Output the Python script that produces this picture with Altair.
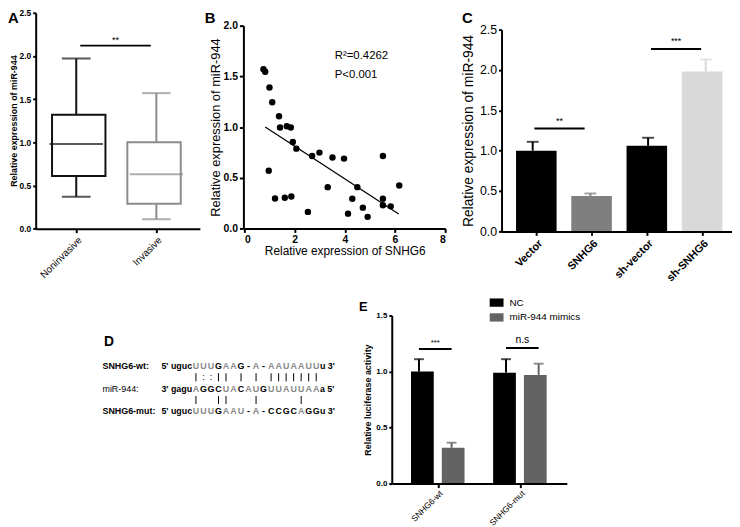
import altair as alt
import pandas as pd

FONT = "Liberation Sans"
W, H = 732, 519

# ---------------- Panel A : box plot ----------------
a_groups = ["Noninvasive", "Invasive"]
a_low = [0.37, 0.11]
a_q1 = [0.61, 0.29]
a_med = [0.98, 0.63]
a_q3 = [1.32, 1.00]
a_high = [1.97, 1.57]
a_colors = ["#111111", "#8c8c8c"]
a_sig_text = ["**"]
a_sig_x1 = [0.05]
a_sig_x2 = [0.93]
a_sig_y = [2.12]

# ---------------- Panel B : scatter ----------------
b_x = [0.76, 0.83, 1.00, 1.11, 1.38, 1.42, 1.69, 1.85, 1.93, 2.07,
       0.97, 1.22, 1.61, 1.87, 2.53, 2.70, 2.99, 3.32, 3.51, 3.97,
       4.13, 4.30, 4.50, 4.72, 4.91, 5.52, 5.52, 5.52, 5.83, 6.17]
b_y = [1.570, 1.545, 1.390, 1.245, 1.106, 0.995, 1.008, 0.995, 0.852, 0.787,
       0.569, 0.296, 0.302, 0.315, 0.163, 0.715, 0.748, 0.407, 0.699, 0.689,
       0.146, 0.293, 0.407, 0.205, 0.114, 0.715, 0.293, 0.228, 0.218, 0.423]
b_fit_x = [0.83, 6.15]
b_fit_y = [1.00, 0.143]
b_notes = ["R\u00b2=0.4262", "P<0.001"]
b_notes_x = [3.6, 3.6]
b_notes_y = [1.70, 1.51]

# ---------------- Panel C : bars ----------------
c_groups = ["Vector", "SNHG6", "sh-vector", "sh-SNHG6"]
c_mean = [1.00, 0.44, 1.06, 1.98]
c_top = [1.11, 0.47, 1.16, 2.13]
c_colors = ["#000000", "#7f7f7f", "#000000", "#d9d9d9"]
c_sig_text = ["**", "***"]
c_sig_x1 = [0.03, 2.05]
c_sig_x2 = [0.90, 2.92]
c_sig_y = [1.275, 2.26]

# ---------------- Panel D : sequences ----------------
d_labels = ["SNHG6-wt:", "miR-944:", "SNHG6-mut:"]
d_label_bold = [True, False, True]
d_prefix = ["5' uguc", "3' gagu", "5' uguc"]
d_core = ["UUUGAAG-A-AAUAAUU", "AGGCUACAUGUUAUUAA", "UUUGAAU-A-CCGCAGG"]
d_suffix = ["u 3'", "a 5'", "u 3'"]
d_pairs = ["|::|| | | |||||||", "|  ||   |     |  "]

# ---------------- Panel E : grouped bars ----------------
e_groups = ["SNHG6-wt", "SNHG6-mut"]
e_series = ["NC", "miR-944 mimics"]
e_colors = ["#000000", "#636363"]
e_nc = [1.00, 0.99]
e_nc_top = [1.11, 1.11]
e_mim = [0.32, 0.97]
e_mim_top = [0.365, 1.07]
e_sig_text = ["***", "n.s"]
e_sig_group = [0, 1]
e_sig_y = [1.20, 1.21]


def axis(**kw):
    base = dict(domainColor="black", domainWidth=2, tickColor="black", tickWidth=2,
                tickSize=4, labelColor="black", titleColor="black", labelFont=FONT,
                titleFont=FONT, grid=False, minExtent=0, zindex=1)
    base.update(kw)
    return alt.Axis(**base)


def label_expr(names):
    expr = "''"
    for i in reversed(range(len(names))):
        expr = f"datum.value == {i} ? '{names[i]}' : ({expr})"
    return expr


def sc(domain, rng, **kw):
    return alt.Scale(domain=domain, range=rng, nice=False, zero=False, **kw)


def letter(ch, x, y, size=15):
    return alt.Chart(pd.DataFrame({"t": [ch]})).mark_text(
        font=FONT, fontSize=size, fontWeight="bold", align="left", baseline="middle",
        color="black").encode(text="t:N", x=alt.value(x), y=alt.value(y))


layers = []

# ======== A ========
xA_s = sc([-0.506, 1.543], [28, 194])
yA_s = sc([0, 2.5], [220.3, 2])
xA_axis = axis(orient="bottom", offset=220.3 - H, values=[0, 1], labelExpr=label_expr(a_groups),
               labelAngle=-45, labelAlign="right", labelBaseline="top", labelFontSize=10,
               title=None, labelPadding=2)
yA_axis = axis(orient="left", offset=-28, values=[0, 0.5, 1, 1.5, 2, 2.5], format=".1f",
               labelFontSize=8.5, labelFontWeight="bold", title="Relative expression of miR-944",
               titleFontSize=9, titleFontWeight="bold", tickSize=3, labelPadding=2,
               titleX=-17.5, titleY=111)


def XA(f="pos", ax=None):
    return alt.X(f"{f}:Q", scale=xA_s, axis=ax)


def YA(f, ax=None):
    return alt.Y(f"{f}:Q", scale=yA_s, axis=ax)


dfA = pd.DataFrame({"grpA": a_groups, "pos": list(range(len(a_groups))), "low": a_low,
                    "q1": a_q1, "med": a_med, "q3": a_q3, "high": a_high})
colA = alt.Color("grpA:N", scale=alt.Scale(domain=a_groups, range=a_colors), legend=None)
strA = alt.Stroke("grpA:N", scale=alt.Scale(domain=a_groups, range=a_colors), legend=None)
baseA = alt.Chart(dfA)
layers += [
    baseA.mark_rule(strokeWidth=2).encode(x=XA("pos", xA_axis), y=YA("low", yA_axis), y2="high:Q", color=colA),
    baseA.mark_bar(size=54, fill="white", strokeWidth=2, orient="vertical").encode(
        x=XA(), y=YA("q1"), y2="q3:Q", stroke=strA),
    baseA.mark_tick(orient="horizontal", size=54, thickness=2).encode(x=XA(), y=YA("med"), color=colA),
    baseA.mark_tick(orient="horizontal", size=29, thickness=2).encode(x=XA(), y=YA("low"), color=colA),
    baseA.mark_tick(orient="horizontal", size=29, thickness=2).encode(x=XA(), y=YA("high"), color=colA),
]
sigA_df = pd.DataFrame({"t": a_sig_text, "x1": a_sig_x1, "x2": a_sig_x2, "y": a_sig_y})
sigA_df["xm"] = (sigA_df["x1"] + sigA_df["x2"]) / 2
layers += [
    alt.Chart(sigA_df).mark_rule(strokeWidth=2, color="black").encode(x=XA("x1"), x2="x2:Q", y=YA("y")),
    alt.Chart(sigA_df).mark_text(font=FONT, fontSize=9, baseline="bottom", dy=-1, color="black").encode(
        x=XA("xm"), y=YA("y"), text="t:N"),
    letter("A", 0, 7, 15),
]

# ======== B ========
xB_s = sc([0, 8], [239, 442])
yB_s = sc([0, 2], [220, 15])
xB_axis = axis(orient="bottom", offset=220 - H, values=[0, 2, 4, 6, 8], format="d", labelFontSize=10.5,
               labelFontWeight="bold", title="Relative expression of SNHG6", titleFontSize=12,
               titleFontWeight="normal", labelPadding=2, titlePadding=1)
yB_axis = axis(orient="left", offset=-238, values=[0, 0.5, 1, 1.5, 2], format=".1f", labelFontSize=10.5,
               labelFontWeight="bold", title="Relative expression of miR-944", titleFontSize=13,
               titleFontWeight="normal", labelPadding=2, titlePadding=1)
dfB = pd.DataFrame({"x": b_x, "y": b_y})
layers += [
    alt.Chart(dfB).mark_circle(size=42, color="black", opacity=1).encode(
        x=alt.X("x:Q", scale=xB_s, axis=xB_axis), y=alt.Y("y:Q", scale=yB_s, axis=yB_axis)),
    alt.Chart(pd.DataFrame({"x": b_fit_x, "y": b_fit_y})).mark_line(color="black", strokeWidth=1.3).encode(
        x=alt.X("x:Q", scale=xB_s, axis=None), y=alt.Y("y:Q", scale=yB_s, axis=None)),
    alt.Chart(pd.DataFrame({"t": b_notes, "x": b_notes_x, "y": b_notes_y})).mark_text(
        font=FONT, fontSize=11.5, align="left", baseline="middle", color="black").encode(
        x=alt.X("x:Q", scale=xB_s, axis=None), y=alt.Y("y:Q", scale=yB_s, axis=None), text="t:N"),
    letter("B", 199, 7, 15),
]

# ======== C ========
xC_s = sc([-0.54, 3.506], [499, 735])
yC_s = sc([0, 2.5], [223, 19])
xC_axis = axis(orient="bottom", offset=223 - H, values=[0, 1, 2, 3], labelExpr=label_expr(c_groups),
               labelAngle=-45, labelAlign="right", labelBaseline="top", labelFontSize=11,
               labelFontWeight="bold", title=None, labelPadding=2)
yC_axis = axis(orient="left", offset=-499, values=[0, 0.5, 1, 1.5, 2, 2.5], format=".1f",
               labelFontSize=12.5, title="Relative expression of miR-944", titleFontSize=14,
               titleFontWeight="normal", tickSize=3, labelPadding=2, titlePadding=4)


def XC(f="pos", ax=None):
    return alt.X(f"{f}:Q", scale=xC_s, axis=ax)


def YC(f, ax=None):
    return alt.Y(f"{f}:Q", scale=yC_s, axis=ax)


dfC = pd.DataFrame({"grpC": c_groups, "pos": list(range(len(c_groups))), "mean": c_mean, "top": c_top})
colC = alt.Color("grpC:N", scale=alt.Scale(domain=c_groups, range=c_colors), legend=None)
baseC = alt.Chart(dfC)
sigC_df = pd.DataFrame({"t": c_sig_text, "x1": c_sig_x1, "x2": c_sig_x2, "y": c_sig_y})
sigC_df["xm"] = (sigC_df["x1"] + sigC_df["x2"]) / 2
layers += [
    baseC.mark_bar(size=41).encode(x=XC("pos", xC_axis), y=YC("mean", yC_axis), color=colC),
    baseC.mark_rule(strokeWidth=2).encode(x=XC(), y=YC("mean"), y2="top:Q", color=colC),
    baseC.mark_tick(orient="horizontal", size=12, thickness=2).encode(x=XC(), y=YC("top"), color=colC),
    alt.Chart(sigC_df).mark_rule(strokeWidth=2, color="black").encode(x=XC("x1"), x2="x2:Q", y=YC("y")),
    alt.Chart(sigC_df).mark_text(font=FONT, fontSize=9, baseline="bottom", dy=-3, color="black").encode(
        x=XC("xm"), y=YC("y"), text="t:N"),
    letter("C", 459, 7, 15),
]

# ======== D ========
recs = []
for i, core in enumerate(d_core):
    for k, ch in enumerate(core):
        if ch != " ":
            recs.append({"col": k + 1, "line": 2 * i, "ch": ch, "tone": "hi" if ch in "AU" else "lo"})
dfcore = pd.DataFrame(recs)
prec = []
for j, pr in enumerate(d_pairs):
    for k, ch in enumerate(pr):
        if ch != " ":
            prec.append({"col": k + 1, "line": 2 * j + 1, "ch": ch})
dfpair = pd.DataFrame(prec)
dfside = pd.DataFrame({"line": [2 * i for i in range(len(d_labels))], "label": d_labels,
                       "bold": d_label_bold, "prefix": d_prefix, "suffix": d_suffix})
dfside["lcol"] = -11.43
dfside["pcol"] = 0.5
dfside["scol"] = len(d_core[0]) + 0.5

xD_s = sc([1, 17], [190, 311.6])
yD_s = sc([0, 4], [359, 405])


def XD(f):
    return alt.X(f"{f}:Q", scale=xD_s, axis=None)


def YD(f="line"):
    return alt.Y(f"{f}:Q", scale=yD_s, axis=None)


txt = dict(font=FONT, fontSize=9, baseline="middle")
layers += [
    alt.Chart(dfcore).mark_text(fontWeight="bold", align="center", **txt).encode(
        x=XD("col"), y=YD(), text="ch:N",
        color=alt.Color("tone:N", scale=alt.Scale(domain=["lo", "hi"], range=["#000000", "#8a8a8a"]),
                        legend=None)),
    alt.Chart(dfpair).transform_filter("datum.ch == '|'").mark_tick(
        orient="vertical", size=8, thickness=1, color="black", opacity=1).encode(
        x=XD("col"), y=YD()),
    alt.Chart(dfpair).transform_filter("datum.ch != '|'").mark_text(align="center", **txt).encode(
        x=XD("col"), y=YD(), text="ch:N", color=alt.value("black")),
    alt.Chart(dfside).mark_text(fontWeight="bold", align="right", color="black", **txt).encode(
        x=XD("pcol"), y=YD(), text="prefix:N"),
    alt.Chart(dfside).mark_text(fontWeight="bold", align="left", color="black", **txt).encode(
        x=XD("scol"), y=YD(), text="suffix:N"),
    alt.Chart(dfside).transform_filter("datum.bold").mark_text(
        fontWeight="bold", align="left", color="black", **txt).encode(x=XD("lcol"), y=YD(), text="label:N"),
    alt.Chart(dfside).transform_filter("!datum.bold").mark_text(
        fontWeight="normal", align="left", color="black", **txt).encode(x=XD("lcol"), y=YD(), text="label:N"),
    letter("D", 97, 335, 14),
]

# ======== E ========
xE_s = sc([-0.5, 1.511], [388, 565])
yE_s = sc([0, 1.5], [478, 308])
xE_axis = axis(orient="bottom", offset=478 - H, values=[0, 1], labelExpr=label_expr(e_groups),
               labelAngle=-45, labelAlign="right", labelBaseline="top", labelFontSize=8.5,
               title=None, labelPadding=1)
yE_axis = axis(orient="left", offset=-388, values=[0, 0.5, 1, 1.5], format=".1f", labelFontSize=8,
               labelFontWeight="bold", title="Relative luciferase activity", titleFontSize=9,
               titleFontWeight="bold", tickSize=3, labelPadding=2, titlePadding=3)


def XE(f="pos", ax=None):
    return alt.X(f"{f}:Q", scale=xE_s, axis=ax)


def YE(f, ax=None):
    return alt.Y(f"{f}:Q", scale=yE_s, axis=ax)


erec = []
for gi, g in enumerate(e_groups):
    erec.append({"grp": g, "series": e_series[0], "pos": gi - 0.1875, "val": e_nc[gi], "top": e_nc_top[gi]})
    erec.append({"grp": g, "series": e_series[1], "pos": gi + 0.1875, "val": e_mim[gi], "top": e_mim_top[gi]})
dfE = pd.DataFrame(erec)
baseE = alt.Chart(dfE)
errColE = alt.Color("series:N", scale=alt.Scale(domain=e_series, range=e_colors), legend=None)
sigE_df = pd.DataFrame({"t": e_sig_text, "g": e_sig_group, "y": e_sig_y})
sigE_df["x1"] = sigE_df["g"] - 0.1875
sigE_df["x2"] = sigE_df["g"] + 0.1875
layers += [
    baseE.mark_bar(size=23).encode(
        x=XE("pos", xE_axis), y=YE("val", yE_axis),
        color=alt.Color("series:N", scale=alt.Scale(domain=e_series, range=e_colors),
                        legend=alt.Legend(orient="none", legendX=487, legendY=288, title=None,
                                          symbolType="M-1,-0.6L1,-0.6L1,0.6L-1,0.6Z", symbolSize=196,
                                          labelFont=FONT, labelFontSize=10, labelColor="black",
                                          rowPadding=3, labelOffset=6, symbolStrokeWidth=0))),
    baseE.mark_rule(strokeWidth=2).encode(x=XE(), y=YE("val"), y2="top:Q", color=errColE),
    baseE.mark_tick(orient="horizontal", size=10, thickness=2).encode(x=XE(), y=YE("top"), color=errColE),
    alt.Chart(sigE_df).mark_rule(strokeWidth=2, color="black").encode(x=XE("x1"), x2="x2:Q", y=YE("y")),
    alt.Chart(sigE_df).transform_filter("datum.t == '***'").mark_text(
        font=FONT, fontSize=8, baseline="bottom", dy=-2, color="black").encode(x=XE("g"), y=YE("y"), text="t:N"),
    alt.Chart(sigE_df).transform_filter("datum.t != '***'").mark_text(
        font=FONT, fontSize=10.5, baseline="bottom", dy=-3, color="black").encode(x=XE("g"), y=YE("y"), text="t:N"),
    letter("E", 355, 299, 13),
]

chart = alt.layer(*layers).resolve_scale(
    x="independent", y="independent", color="independent", stroke="independent").resolve_axis(
    x="independent", y="independent").properties(
    width=W, height=H, padding=0, autosize=alt.AutoSizeParams(type="none")).configure_view(stroke=None)

chart.save("out.html", embed_options={"renderer": "svg", "actions": False})
